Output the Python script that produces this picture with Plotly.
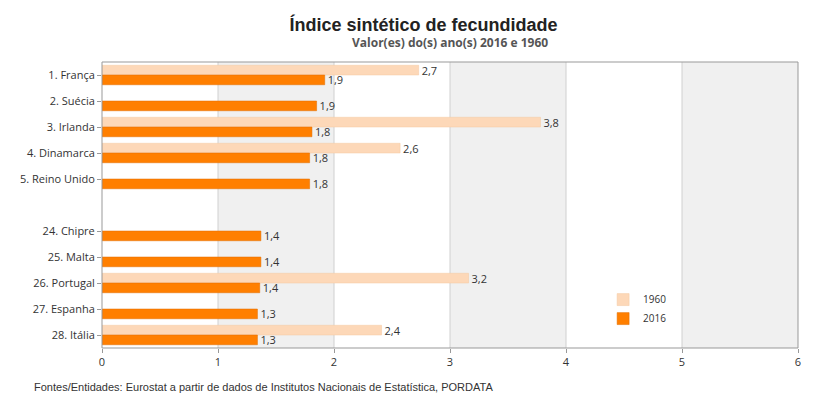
import plotly.graph_objects as go

countries = ["1. França", "2. Suécia", "3. Irlanda", "4. Dinamarca", "5. Reino Unido", "",
             "24. Chipre", "25. Malta", "26. Portugal", "27. Espanha", "28. Itália"]
v1960 = [2.73, None, 3.78, 2.57, None, None, None, None, 3.16, None, 2.41]
v2016 = [1.92, 1.85, 1.81, 1.79, 1.79, None, 1.37, 1.37, 1.36, 1.34, 1.34]

pos = list(range(len(countries)))

def lab(v):
    return [("" if x is None else f"{x:.1f}".replace(".", ",")) for x in v]

fig = go.Figure()
fig.add_bar(y=pos, x=v1960, orientation="h", name="1960", marker_color="#fdd8b8",
            marker_line=dict(color="#f5c9a0", width=0.5),
            text=lab(v1960), textposition="outside", cliponaxis=False, constraintext="none",
            textfont=dict(size=11, color="#333"))
fig.add_bar(y=pos, x=v2016, orientation="h", name="2016", marker_color="#ff7f00",
            marker_line=dict(color="#e06f00", width=0.5),
            text=lab(v2016), textposition="outside", cliponaxis=False, constraintext="none",
            textfont=dict(size=11, color="#333"))

shapes = [dict(type="rect", xref="x", yref="paper", x0=a, x1=a + 1, y0=0, y1=1,
               fillcolor="#f0f0f0", line_width=0, layer="below") for a in (1, 3, 5)]
shapes += [dict(type="line", xref="x", yref="paper", x0=a, x1=a, y0=0, y1=1,
                line=dict(color="#d0d0d0", width=1), layer="below") for a in range(1, 6)]
shapes.append(dict(type="rect", xref="paper", yref="paper", x0=0, x1=1, y0=0, y1=1,
                   line=dict(color="#999", width=1)))

fig.update_layout(
    width=831, height=402, barmode="group", bargap=0.25, bargroupgap=0,
    plot_bgcolor="white", paper_bgcolor="white",
    margin=dict(l=86, r=41, t=54, b=62),
    font=dict(family="Open Sans, Arial", size=11, color="#333"),
    title=dict(text="<b>Índice sintético de fecundidade</b>", x=0.5, xanchor="center",
               y=0.975, font=dict(size=18, color="#222", family="Arial")),
    annotations=[
        dict(text="<b>Valor(es) do(s) ano(s) 2016 e 1960</b>", x=0.5, xref="paper",
             y=1.105, yref="paper", showarrow=False, font=dict(size=12, color="#555")),
        dict(text="Fontes/Entidades: Eurostat a partir de dados de Institutos Nacionais de Estatística, PORDATA",
             x=-0.1, xref="paper", xanchor="left", y=-0.11, yref="paper",
             yanchor="top", showarrow=False, font=dict(size=11, color="#333", family="Arial")),
    ],
    xaxis=dict(range=[0, 6], tickvals=[0, 1, 2, 3, 4, 5, 6], showgrid=False,
               zeroline=False, ticks="outside", ticklen=4, tickcolor="#999"),
    yaxis=dict(tickvals=[p for p in pos if countries[p]],
               ticktext=[c for c in countries if c], range=[10.5, -0.5],
               showgrid=False, zeroline=False, ticks="outside", ticklen=4, tickcolor="#999"),
    legend=dict(x=0.72, y=0.22, xanchor="left", yanchor="top", itemwidth=30,
                bgcolor="rgba(0,0,0,0)", font=dict(size=10)),
    shapes=shapes,
)
fig.write_html("out.html")
